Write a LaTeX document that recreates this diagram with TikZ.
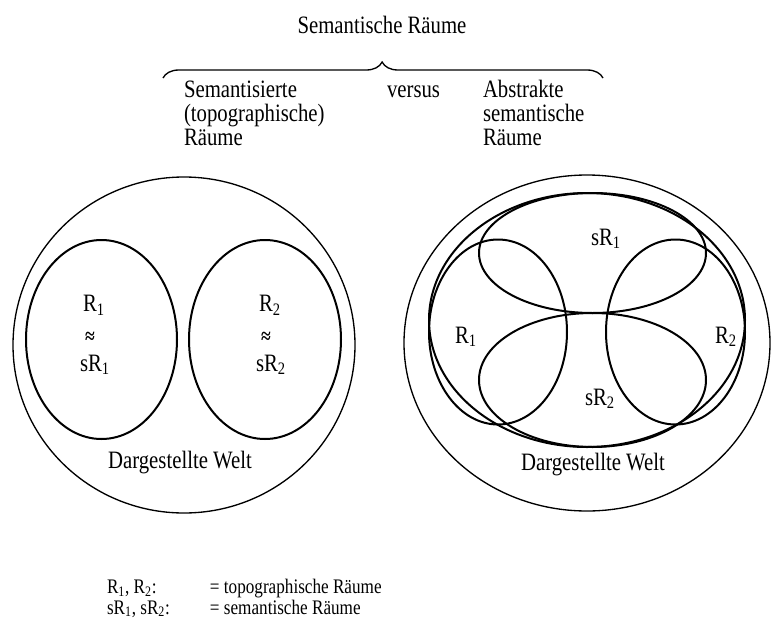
\documentclass[tikz,border=0pt]{standalone}
\usepackage{fontspec}
\setmainfont[FakeStretch=0.83]{Liberation Serif}
\usetikzlibrary{decorations.pathreplacing}
\begin{document}
\begin{tikzpicture}[x=0.75pt,y=-0.75pt,
  txt/.style={inner sep=0pt,outer sep=0pt,font=\fontsize{18.75pt}{18pt}\selectfont},
  leg/.style={inner sep=0pt,outer sep=0pt,font=\fontsize{15.5pt}{15.5pt}\selectfont,align=left,anchor=base west},
  outerring/.style={draw=black,line width=1pt},
  innerring/.style={draw=black,line width=1.5pt}]
\useasboundingbox (0,0) rectangle (772,622);
% heading
\node[txt,anchor=base] (title) at (382,33) {Semantische Räume};
\draw[line width=1pt,decorate,decoration={brace,amplitude=12pt,aspect=0.498}] (163,78) -- (603,78);
\node[txt,anchor=base west] (l1) at (184,97) {Semantisierte};
\node[txt,anchor=base west] (l2) at (184,121) {(topographische)};
\node[txt,anchor=base west] (l3) at (184,145) {Räume};
\node[txt,anchor=base west] (vs) at (387,97) {versus};
\node[txt,anchor=base west] (r1) at (483,97) {Abstrakte};
\node[txt,anchor=base west] (r2) at (483,121) {semantische};
\node[txt,anchor=base west] (r3) at (483,145) {Räume};
% left diagram
\draw[outerring] (184,345) ellipse [x radius=171, y radius=168];
\draw[innerring] (101.5,339.5) ellipse [x radius=75.5, y radius=99.5];
\draw[innerring] (265,339.5) ellipse [x radius=76, y radius=99.5];
\node[txt,anchor=base west] (aR1) at (83,311.7) {R\textsubscript{1}};
\node[txt,font=\fontsize{16pt}{16pt}\selectfont\bfseries] (aeq1) at (90,338) {≈};
\node[txt,anchor=base west] (asR1) at (80,371) {sR\textsubscript{1}};
\node[txt,anchor=base west] (aR2) at (259,311.7) {R\textsubscript{2}};
\node[txt,font=\fontsize{16pt}{16pt}\selectfont\bfseries] (aeq2) at (266,338) {≈};
\node[txt,anchor=base west] (asR2) at (256,371) {sR\textsubscript{2}};
\node[txt,anchor=base] (aW) at (180,468) {Dargestellte Welt};
% right diagram
\draw[outerring] (587,343) ellipse [x radius=183, y radius=168];
\draw[innerring] (587,320) ellipse [x radius=158, y radius=127];
\draw[innerring] (592.5,253) ellipse [x radius=113.5, y radius=60];
\draw[innerring] (592.5,380) ellipse [x radius=113.5, y radius=67];
\draw[innerring] (498,332) ellipse [x radius=69, y radius=92.5];
\draw[innerring] (675.5,332) ellipse [x radius=69.5, y radius=92.5];
\node[txt,anchor=base] (bsR1) at (606,245) {sR\textsubscript{1}};
\node[txt,anchor=base west] (bR1) at (455,343) {R\textsubscript{1}};
\node[txt,anchor=base west] (bR2) at (715,343) {R\textsubscript{2}};
\node[txt,anchor=base] (bsR2) at (600,405) {sR\textsubscript{2}};
\node[txt,anchor=base] (bW) at (593,470) {Dargestellte Welt};
% legend
\node[leg] (key) at (107,614) {\makebox[77.25pt][l]{R\textsubscript{1}, R\textsubscript{2}:}= topographische Räume\\
\makebox[77.25pt][l]{sR\textsubscript{1}, sR\textsubscript{2}:}= semantische Räume};
\end{tikzpicture}
\end{document}
